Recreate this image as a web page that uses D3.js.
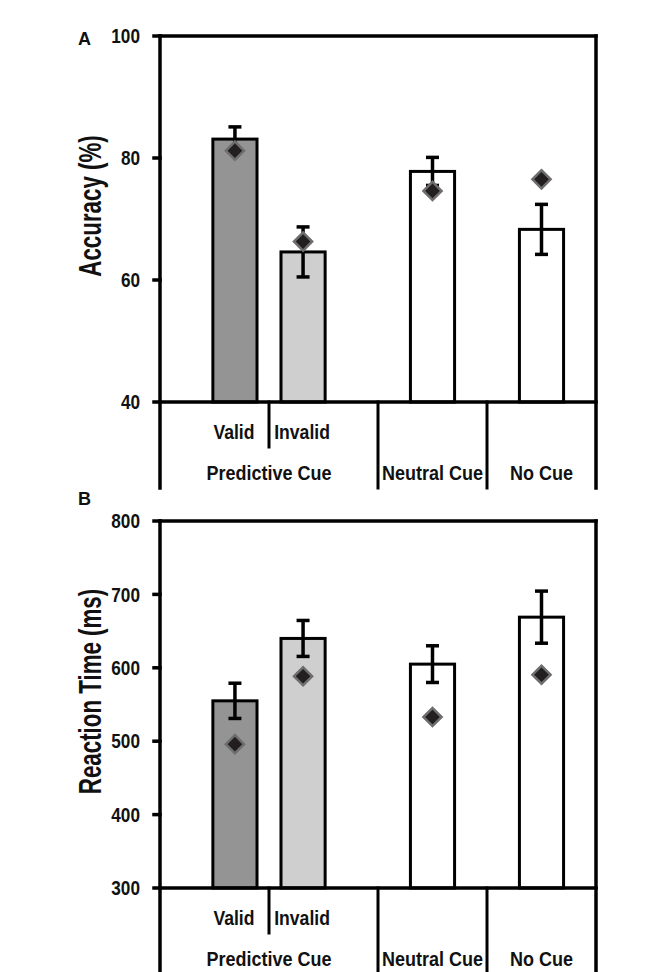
<!DOCTYPE html>
<html>
<head>
<meta charset="utf-8">
<script src="https://cdn.jsdelivr.net/npm/d3@7"></script>
<style>
  html, body { margin: 0; padding: 0; background: #fff; }
  svg text { font-family: "Liberation Sans", Arial, sans-serif; font-weight: bold; fill: #111; }
</style>
</head>
<body>
<svg id="chart" width="659" height="972"></svg>
<script>
// ---- data ----
const conditions = ["Valid", "Invalid", "Neutral Cue", "No Cue"];
const subLabels = ["Valid", "Invalid", "", ""];
const conditionGroup = ["Predictive Cue", "Predictive Cue", "Neutral Cue", "No Cue"];
const groupNames = ["Predictive Cue", "Neutral Cue", "No Cue"];
const barFills = ["#949494", "#cfcfcf", "#ffffff", "#ffffff"];

const accMean = [83.1, 64.6, 77.8, 68.3];
const accErr = [2.0, 4.1, 2.3, 4.1];
const accMarker = [81.2, 66.3, 74.6, 76.5];
const accTicks = [40, 60, 80, 100];

const rtMean = [555, 640, 605, 669];
const rtErr = [24, 24.5, 25, 35.5];
const rtMarker = [496, 588.5, 533, 590.5];
const rtTicks = [300, 400, 500, 600, 700, 800];

// ---- layout ----
const svg = d3.select("#chart");
const X0 = 160, X1 = 596;

// one slot per condition, groups span consecutive slots
const slot = d3.scaleBand().domain(d3.range(conditions.length)).range([X0, X1]);
const groupExtent = {};
groupNames.forEach(g => {
  const idx = conditions.map((c, i) => i).filter(i => conditionGroup[i] === g);
  groupExtent[g] = [slot(d3.min(idx)), slot(d3.max(idx)) + slot.bandwidth(), idx];
});
const inner = {};
groupNames.forEach(g => {
  const [a, b, idx] = groupExtent[g];
  inner[g] = d3.scalePoint().domain(idx.map(i => conditions[i])).range([a, b]).padding(1.1);
});
const xCenter = i => inner[conditionGroup[i]](conditions[i]);
const barW = slot.bandwidth() * 0.405;

function drawPanel(o) {
  const g = svg.append("g");
  const y = d3.scaleLinear().domain(o.domain).range([o.bottom, o.top]);
  const ext = 86;

  // bars
  g.selectAll("rect.bar").data(o.mean).join("rect")
    .attr("x", (d, i) => xCenter(i) - barW / 2)
    .attr("y", d => y(d))
    .attr("width", barW)
    .attr("height", d => y(o.domain[0]) - y(d))
    .attr("fill", (d, i) => barFills[i])
    .attr("stroke", "#000").attr("stroke-width", 3);

  // error bars
  const cap = 6.5;
  o.mean.forEach((m, i) => {
    const cx = xCenter(i), yt = y(m + o.err[i]), yb = y(m - o.err[i]);
    g.append("line").attr("x1", cx).attr("x2", cx).attr("y1", yt).attr("y2", yb)
      .attr("stroke", "#000").attr("stroke-width", 3.5);
    [yt, yb].forEach(yy => g.append("line").attr("x1", cx - cap).attr("x2", cx + cap)
      .attr("y1", yy).attr("y2", yy).attr("stroke", "#000").attr("stroke-width", 3.5));
  });

  // markers (diamonds)
  const diamond = d3.symbol().type(d3.symbolSquare).size(165);
  g.selectAll("path.mk").data(o.marker).join("path")
    .attr("d", diamond())
    .attr("transform", (d, i) => `translate(${xCenter(i)},${y(d)}) rotate(45)`)
    .attr("fill", "#231f20").attr("stroke", "#6e6e6e").attr("stroke-width", 2.5);

  // frame
  const yTop = y(o.domain[1]), yBot = y(o.domain[0]);
  const line = (x1, y1, x2, y2, w) => g.append("line").attr("x1", x1).attr("y1", y1)
    .attr("x2", x2).attr("y2", y2).attr("stroke", "#000").attr("stroke-width", w || 3.5)
    .attr("stroke-linecap", "square");
  line(X0, yTop, X1, yTop);
  line(X0, yTop, X0, yBot + ext);
  line(X1, yTop, X1, yBot + ext);
  line(X0, yBot, X1, yBot);

  // y ticks
  o.ticks.forEach(t => {
    line(X0 - 6, y(t), X0, y(t), 3.5);
    g.append("text").attr("transform", `translate(140,${y(t)}) scale(0.86,1)`)
      .attr("text-anchor", "end").attr("dy", "0.36em").attr("font-size", 20).text(t);
  });

  // category separators
  groupNames.forEach((gn, k) => {
    const [a, b, idx] = groupExtent[gn];
    if (k > 0) line(a, yBot, a, yBot + ext, 3);
    for (let j = 1; j < idx.length; j++) {
      const sx = slot(idx[j]);
      line(sx, yBot, sx, yBot + 45, 3);
    }
    g.append("text").attr("transform", `translate(${(a + b) / 2},${yBot + 78}) scale(0.9,1)`)
      .attr("text-anchor", "middle").attr("font-size", 20).text(gn);
  });
  subLabels.forEach((s, i) => {
    if (!s) return;
    g.append("text").attr("transform", `translate(${xCenter(i) - 1},${yBot + 37}) scale(0.88,1)`)
      .attr("text-anchor", "middle").attr("font-size", 20).text(s);
  });

  // axis title
  g.append("text")
    .attr("transform", `translate(101,${(yTop + yBot) / 2 - 13}) rotate(-90) scale(0.72,1)`)
    .attr("text-anchor", "middle").attr("font-size", 31).text(o.title);

  // panel letter
  g.append("text").attr("transform", `translate(78,${o.letterY}) scale(0.95,1)`)
    .attr("font-size", 19).text(o.letter);
}

drawPanel({ domain: [40, 100], top: 36, bottom: 402, ticks: accTicks,
  mean: accMean, err: accErr, marker: accMarker, title: "Accuracy (%)", letter: "A", letterY: 45 });
drawPanel({ domain: [300, 800], top: 521, bottom: 888, ticks: rtTicks,
  mean: rtMean, err: rtErr, marker: rtMarker, title: "Reaction Time (ms)", letter: "B", letterY: 505 });
</script>
</body>
</html>
